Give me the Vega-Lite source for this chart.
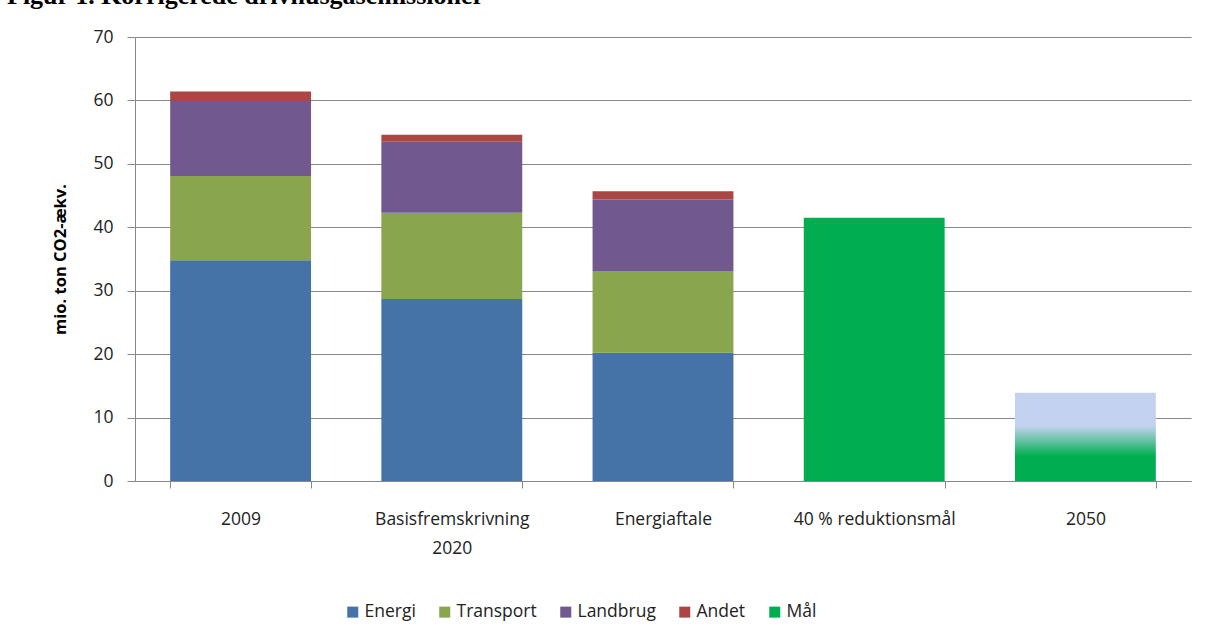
{
  "$schema": "https://vega.github.io/schema/vega-lite/v6.json",
  "autosize": {"type": "none"},
  "width": 1056,
  "height": 444,
  "padding": {"left": 135, "top": 37, "right": 16, "bottom": 160},
  "background": "white",
  "title": {
    "text": "Figur 1. Korrigerede drivhusgasemissioner",
    "anchor": "start",
    "frame": "group",
    "font": "Liberation Serif",
    "fontSize": 26,
    "fontWeight": "bold",
    "color": "black",
    "baseline": "alphabetic",
    "dx": -128,
    "dy": 2,
    "offset": 0
  },
  "config": {
    "view": {"stroke": null},
    "font": "Open Sans",
    "axis": {
      "labelFont": "Open Sans",
      "labelFontSize": 17.5,
      "labelColor": "#222222",
      "domainColor": "#888888",
      "tickColor": "#888888",
      "gridColor": "#888888",
      "gridWidth": 1
    }
  },
  "data": {
    "values": [
      {"kat": "2009", "type": "Energi", "v": 34.8},
      {"kat": "2009", "type": "Transport", "v": 13.3},
      {"kat": "2009", "type": "Landbrug", "v": 11.8},
      {"kat": "2009", "type": "Andet", "v": 1.5},
      {"kat": "Basisfremskrivning 2020", "type": "Energi", "v": 28.7},
      {"kat": "Basisfremskrivning 2020", "type": "Transport", "v": 13.6},
      {"kat": "Basisfremskrivning 2020", "type": "Landbrug", "v": 11.2},
      {"kat": "Basisfremskrivning 2020", "type": "Andet", "v": 1.1},
      {"kat": "Energiaftale", "type": "Energi", "v": 20.2},
      {"kat": "Energiaftale", "type": "Transport", "v": 12.9},
      {"kat": "Energiaftale", "type": "Landbrug", "v": 11.3},
      {"kat": "Energiaftale", "type": "Andet", "v": 1.3},
      {"kat": "40 % reduktionsmål", "type": "Mål", "v": 41.5},
      {"kat": "2050", "type": "Mål", "v": 13.9}
    ]
  },
  "transform": [
    {"calculate": "indexof(['Energi', 'Transport', 'Landbrug', 'Andet', 'Mål'], datum.type)", "as": "stackOrder"}
  ],
  "encoding": {
    "x": {
      "field": "kat",
      "type": "nominal",
      "sort": null,
      "scale": {
        "domain": ["2009", "Basisfremskrivning 2020", "Energiaftale", "40 % reduktionsmål", "2050"],
        "paddingInner": 0.333,
        "paddingOuter": 0.1665
      },
      "axis": {
        "title": null,
        "labelAngle": 0,
        "tickBand": "extent",
        "tickSize": 7,
        "labelPadding": 22,
        "labelLineHeight": 29,
        "labelExpr": "datum.label == 'Basisfremskrivning 2020' ? ['Basisfremskrivning', '2020'] : datum.label"
      }
    },
    "y": {
      "field": "v",
      "type": "quantitative",
      "stack": "zero",
      "scale": {"domain": [0, 70], "nice": false},
      "axis": {
        "title": "mio. ton CO2-ækv.",
        "titleFont": "Open Sans",
        "titleFontSize": 16.5,
        "titleFontWeight": "bold",
        "titleColor": "black",
        "titlePadding": 24,
        "values": [0, 10, 20, 30, 40, 50, 60, 70],
        "tickSize": 8,
        "labelPadding": 14,
        "domain": true
      }
    }
  },
  "layer": [
    {
      "transform": [{"filter": "datum.kat != '2050'"}],
      "mark": {"type": "bar"},
      "encoding": {
        "color": {
          "field": "type",
          "type": "nominal",
          "sort": ["Energi", "Transport", "Landbrug", "Andet", "Mål"],
          "scale": {
            "domain": ["Energi", "Transport", "Landbrug", "Andet", "Mål"],
            "range": ["#4572A7", "#89A54E", "#71588F", "#AA4643", "#00AE4F"]
          },
          "legend": {
            "title": null,
            "orient": "none",
            "direction": "horizontal",
            "legendX": 209,
            "legendY": 566,
            "symbolType": "square",
            "symbolSize": 121,
            "symbolStrokeWidth": 0,
            "labelFont": "Open Sans",
            "labelFontSize": 17.5,
            "labelColor": "#222222",
            "labelOffset": 3,
            "columnPadding": 20
          }
        },
        "order": {"field": "stackOrder", "type": "quantitative", "sort": "ascending"}
      }
    },
    {
      "transform": [{"filter": "datum.kat == '2050'"}],
      "mark": {
        "type": "bar",
        "color": {
          "gradient": "linear",
          "x1": 0, "y1": 0, "x2": 0, "y2": 1,
          "stops": [
            {"offset": 0, "color": "#C3D2EE"},
            {"offset": 0.38, "color": "#C3D2EE"},
            {"offset": 0.72, "color": "#00AE4F"},
            {"offset": 1, "color": "#00AE4F"}
          ]
        }
      },
      "encoding": {}
    }
  ]
}
